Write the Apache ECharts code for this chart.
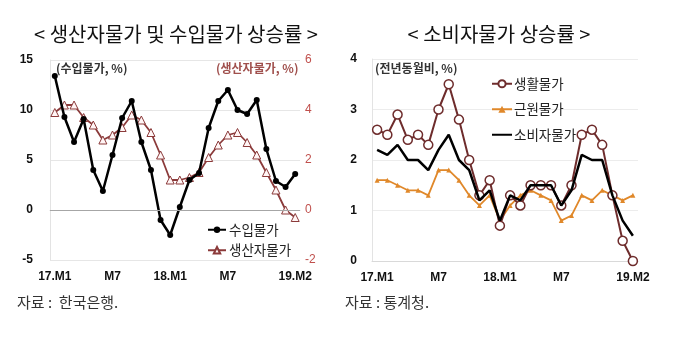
<!DOCTYPE html>
<html>
<head>
<meta charset="utf-8">
<script src="https://cdn.jsdelivr.net/npm/echarts@6/dist/echarts.min.js"></script>
<style>
  html, body { margin: 0; padding: 0; background: #fff; }
  #chart { width: 680px; height: 353px; }
</style>
</head>
<body>
<div id="chart"></div>
<script>
const months = [
  "17.01", "17.02", "17.03", "17.04", "17.05", "17.06", "17.07", "17.08", "17.09", "17.10", "17.11", "17.12",
  "18.01", "18.02", "18.03", "18.04", "18.05", "18.06", "18.07", "18.08", "18.09", "18.10", "18.11", "18.12",
  "19.01", "19.02",
];
const xTickLabels = { "17.01": "17.M1", "17.07": "M7", "18.01": "18.M1", "18.07": "M7", "19.02": "19.M2" };

// left panel
const importPrice = [13.4, 9.3, 6.8, 9.1, 4.0, 1.9, 5.5, 9.2, 10.9, 6.8, 4.0, -1.0, -2.5,
  0.3, 3.0, 3.7, 8.2, 10.9, 12.0, 10.0, 9.6, 11.0, 6.1, 2.9, 2.3, 3.6];
const producerPrice = [3.9, 4.2, 4.2, 3.7, 3.4, 2.8, 3.0, 3.3, 3.8, 3.6, 3.1, 2.2, 1.2,
  1.2, 1.3, 1.5, 2.1, 2.6, 3.0, 3.1, 2.7, 2.2, 1.5, 0.8, 0.0, -0.3];

// right panel
const livingPrice = [2.6, 2.5, 2.9, 2.4, 2.5, 2.3, 3.0, 3.5, 2.8, 2.0, 1.3, 1.6, 0.7,
  1.3, 1.1, 1.5, 1.5, 1.5, 1.1, 1.5, 2.5, 2.6, 2.3, 1.3, 0.4, 0.0];
const corePrice = [1.6, 1.6, 1.5, 1.4, 1.4, 1.3, 1.8, 1.8, 1.6, 1.3, 1.1, 1.3, 0.8,
  1.1, 1.3, 1.4, 1.3, 1.2, 0.8, 0.9, 1.3, 1.2, 1.4, 1.3, 1.2, 1.3];
const consumerPrice = [2.2, 2.1, 2.3, 2.0, 2.0, 1.8, 2.2, 2.5, 2.0, 1.8, 1.2, 1.4, 0.8,
  1.3, 1.2, 1.5, 1.5, 1.5, 1.1, 1.4, 2.1, 2.0, 2.0, 1.3, 0.8, 0.5];

const FONT = "'Noto Sans CJK KR', 'Noto Sans', sans-serif";
const NUM_FONT = "'Liberation Sans', Arial, sans-serif";
const PPI_COLOR = "#8b3a3a";
const LIVING_COLOR = "#6e2c2c";
const CORE_COLOR = "#e0882a";

const chart = echarts.init(document.getElementById("chart"), null, { renderer: "canvas" });

const xAxisBase = (gridIndex) => ({
  type: "category",
  gridIndex,
  data: months,
  boundaryGap: true,
  axisTick: { show: false },
  axisLine: { show: true, lineStyle: { color: "#d9d9d9" } },
  axisLabel: {
    interval: 0,
    margin: 11,
    color: "#111",
    fontWeight: "bold",
    fontSize: 12,
    fontFamily: NUM_FONT,
    formatter: (v) => xTickLabels[v] || "",
  },
  splitLine: { show: false },
});

chart.setOption({
  animation: false,
  backgroundColor: "#fff",
  grid: [
    { left: 50, top: 60, width: 250, height: 200 },
    { left: 372, top: 59, width: 266, height: 202 },
  ],
  xAxis: [xAxisBase(0), xAxisBase(1)],
  yAxis: [
    {
      type: "value", gridIndex: 0, min: -5, max: 15, interval: 5,
      axisLine: { show: true, lineStyle: { color: "#e3e3e3" } },
      axisTick: { show: false },
      splitLine: { lineStyle: { color: "#e6e6e6" } },
      axisLabel: { margin: 17, color: "#111", fontWeight: "bold", fontSize: 12, fontFamily: NUM_FONT },
    },
    {
      type: "value", gridIndex: 0, position: "right", min: -2, max: 6, interval: 2,
      axisLine: { show: false },
      axisTick: { show: false },
      splitLine: { show: false },
      axisLabel: { margin: 5, color: "#c0504d", fontSize: 12, fontFamily: NUM_FONT },
    },
    {
      type: "value", gridIndex: 1, min: 0, max: 4, interval: 1,
      axisLine: { show: true, lineStyle: { color: "#e3e3e3" } },
      axisTick: { show: false },
      splitLine: { lineStyle: { color: "#ececec" } },
      axisLabel: { margin: 15, color: "#111", fontWeight: "bold", fontSize: 12, fontFamily: NUM_FONT },
    },
  ],
  legend: [
    {
      orient: "vertical", left: 202, top: 218, itemWidth: 18, itemHeight: 8, itemGap: 7,
      textStyle: { fontFamily: FONT, fontSize: 13.5, color: "#222", padding: [0, 0, 0, -2] },
      data: ["수입물가", "생산자물가"],
    },
    {
      orient: "vertical", left: 486, top: 72, itemWidth: 20, itemHeight: 9, itemGap: 12,
      textStyle: { fontFamily: FONT, fontSize: 13.5, color: "#222", padding: [0, 0, 0, -3] },
      data: ["생활물가", "근원물가", { name: "소비자물가", itemStyle: { opacity: 0 } }],
    },
  ],
  series: [
    {
      name: "수입물가", type: "line", xAxisIndex: 0, yAxisIndex: 0,
      data: importPrice, z: 4,
      symbol: "circle", symbolSize: 6,
      lineStyle: { color: "#000", width: 2.5 },
      itemStyle: { color: "#000" },
      markLine: {
        silent: true, symbol: "none", label: { show: false },
        lineStyle: { color: "#a6a6a6", type: "solid", width: 1 },
        data: [{ yAxis: 0 }],
      },
    },
    {
      name: "생산자물가", type: "line", xAxisIndex: 0, yAxisIndex: 1,
      data: producerPrice, z: 3,
      symbol: "triangle", symbolSize: 8,
      lineStyle: { color: PPI_COLOR, width: 1.8 },
      itemStyle: { color: "#fff5f5", borderColor: PPI_COLOR, borderWidth: 1 },
    },
    {
      name: "생활물가", type: "line", xAxisIndex: 1, yAxisIndex: 2,
      data: livingPrice, z: 3,
      symbol: "circle", symbolSize: 9,
      lineStyle: { color: LIVING_COLOR, width: 2 },
      itemStyle: { color: "#fff", borderColor: LIVING_COLOR, borderWidth: 1.5 },
    },
    {
      name: "근원물가", type: "line", xAxisIndex: 1, yAxisIndex: 2,
      data: corePrice, z: 2,
      symbol: "triangle", symbolSize: 5,
      lineStyle: { color: CORE_COLOR, width: 1.8 },
      itemStyle: { color: CORE_COLOR },
    },
    {
      name: "소비자물가", type: "line", xAxisIndex: 1, yAxisIndex: 2,
      data: consumerPrice, z: 4,
      symbol: "none",
      lineStyle: { color: "#000", width: 2.5 },
      itemStyle: { color: "#000" },
    },
  ],
  graphic: [
    { type: "text", x: 176, y: 24, style: { text: "< 생산자물가 및 수입물가 상승률 >", font: `20px ${FONT}`, fill: "#111", textAlign: "center" } },
    { type: "text", x: 499, y: 24, style: { text: "< 소비자물가 상승률 >", font: `20px ${FONT}`, fill: "#111", textAlign: "center" } },
    { type: "text", left: 56, top: 62, style: { text: "(수입물가, %)", font: `bold 12px ${FONT}`, fill: "#333" } },
    { type: "text", left: 216, top: 62, style: { text: "(생산자물가, %)", font: `bold 12px ${FONT}`, fill: "#a0504d" } },
    { type: "text", left: 375, top: 62, style: { text: "(전년동월비, %)", font: `bold 12px ${FONT}`, fill: "#333" } },
    { type: "text", left: 17, top: 295, style: { text: "자료 :  한국은행.", font: `15px ${FONT}`, fill: "#333" } },
    { type: "text", left: 345, top: 295, style: { text: "자료 : 통계청.", font: `15px ${FONT}`, fill: "#333" } },
  ],
});
</script>
</body>
</html>
